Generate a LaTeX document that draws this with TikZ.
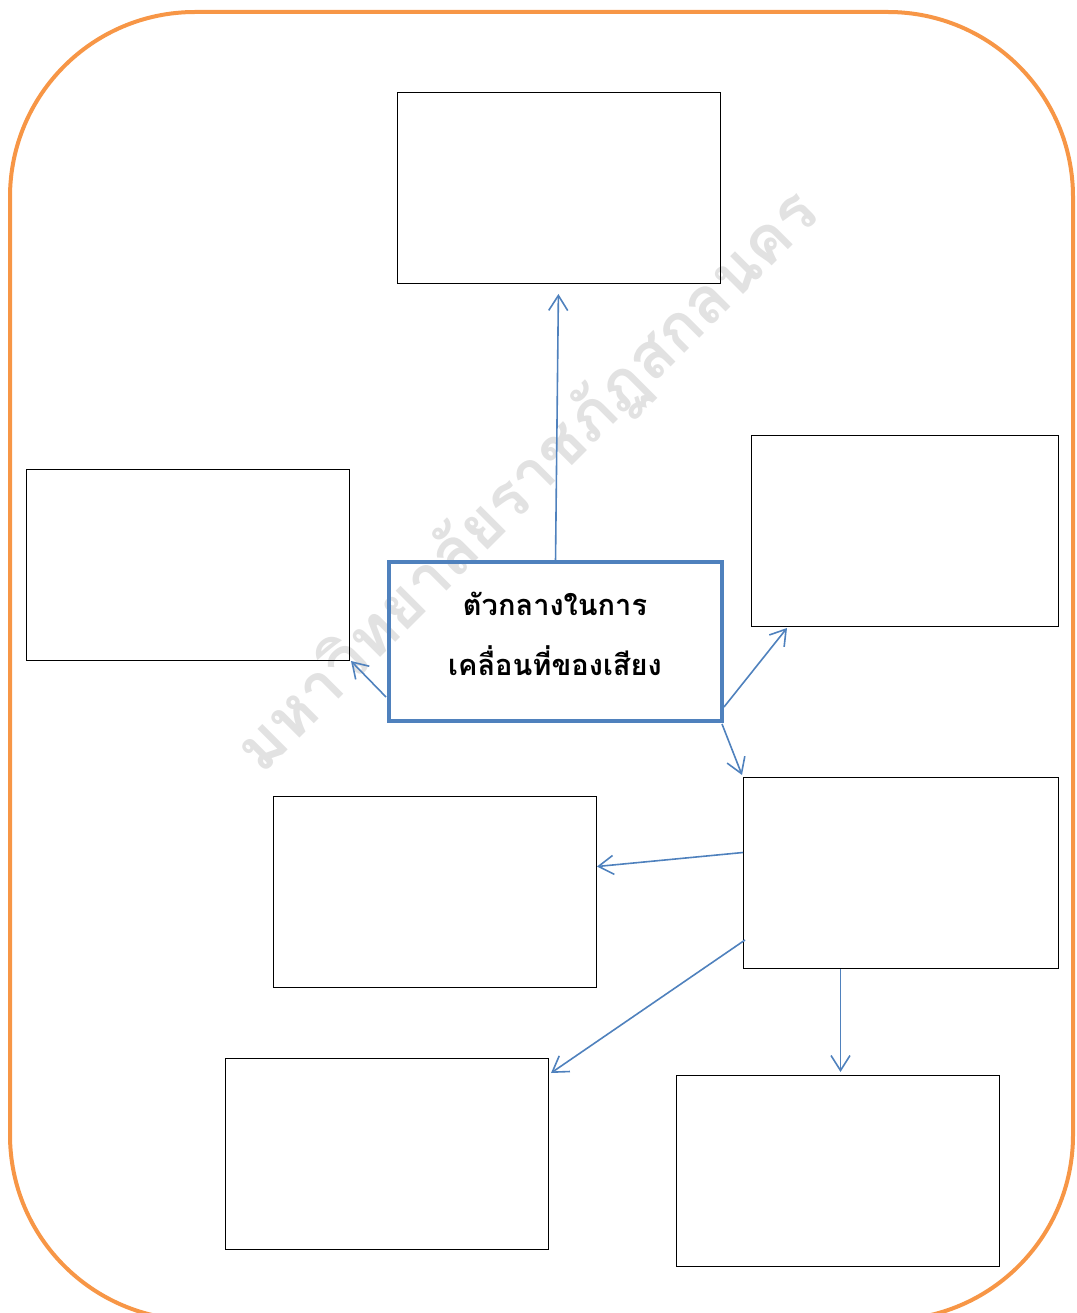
\documentclass[tikz,border=0pt]{standalone}
\usepackage{fontspec}
\newfontfamily\thaifont[Script=Thai]{Loma}
\usetikzlibrary{arrows.meta,calc}
\definecolor{frameorange}{HTML}{F79646}
\definecolor{accentblue}{HTML}{4F81BD}
\definecolor{wmgray}{HTML}{E2E2E2}
\begin{document}
\begin{tikzpicture}[x=1pt,y=-1pt,
  box/.style={draw=black,line width=1pt,inner sep=0pt,outer sep=0pt,minimum width=323pt,minimum height=191pt,anchor=north west},
  centerbox/.style={draw=accentblue,line width=4.5pt,inner sep=0pt,outer sep=0pt,minimum width=333pt,minimum height=159pt,anchor=north west,align=center},
  arr/.style={draw=accentblue,line width=1.6pt,-{Straight Barb[length=15pt,width=19pt,line width=1.6pt]}}
]
\useasboundingbox (0,0) rectangle (1076,1313);
\clip (0,0) rectangle (1076,1313);
% outer frame
\draw[frameorange,line width=4pt,rounded corners=185pt] (10,12) rectangle (1073,1320);
% watermark
\node[text=wmgray,rotate=45,font=\thaifont\bfseries\fontsize{64.5}{64.5}\selectfont,inner sep=0pt] (wm) at (528,482) {มหาวิทยาลัยราชภัฏสกลนคร};
% boxes
\node[box] (top) at (397,93) {};
\node[box] (left) at (26,469) {};
\node[box,minimum width=307pt] (ru) at (751,435) {};
\node[box,minimum width=315pt] (rl) at (743,777) {};
\node[box] (ml) at (273,796) {};
\node[box] (bl) at (225,1058) {};
\node[box] (br) at (676,1075) {};
% centre box
\node[centerbox] (c) at (389,562) {};
\node[font=\thaifont\bfseries\fontsize{29}{60}\selectfont,align=center,inner sep=0pt] (ctext) at (555,634) {ตัวกลางในการ\\เคลื่อนที่ของเสียง};
% connectors
\draw[arr,shorten >=10pt] (c.north) -- (top.south);
\draw[arr] ($(c.south west)+(-3,-24)$) -- ($(left.south east)+(2,1)$);
\draw[arr] ($(c.south east)+(2,-14)$) -- ($(ru.south west)+(36,2)$);
\draw[arr] ($(c.south east)+(0,3)$) -- ($(rl.north west)+(-1,-2)$);
\draw[arr] ($(rl.west)+(0,-20)$) -- ($(ml.east)+(1,-25)$);
\draw[arr] ($(rl.south west)+(2,-28)$) -- ($(bl.north east)+(3,15)$);
\draw[arr] ($(rl.south)+(-60,1)$) -- ($(br.north)+(3,-3)$);
\end{tikzpicture}
\end{document}
